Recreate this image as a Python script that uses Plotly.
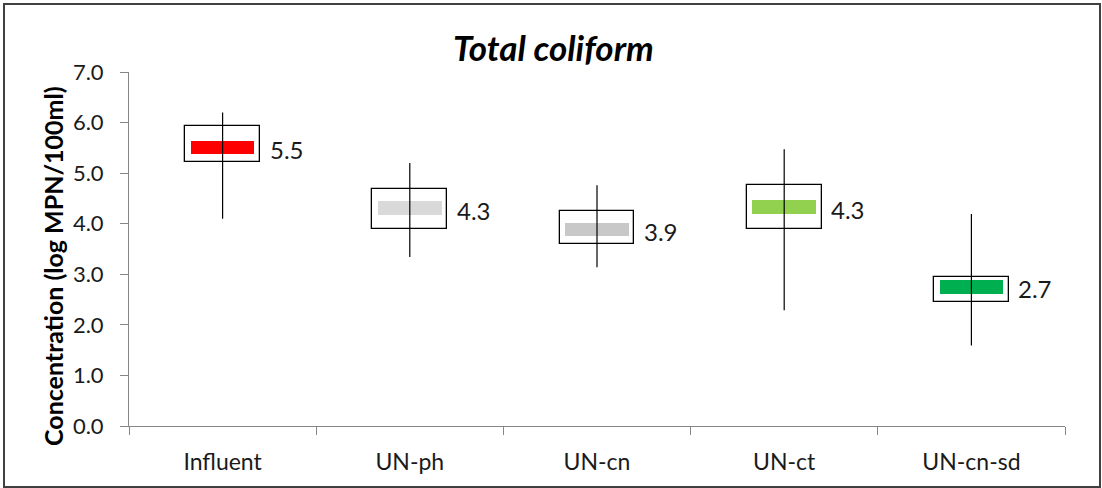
import plotly.graph_objects as go

categories = ["Influent", "UN-ph", "UN-cn", "UN-ct", "UN-cn-sd"]
mean_vals = [5.5, 4.3, 3.9, 4.3, 2.7]
mean_pos = [5.50, 4.31, 3.89, 4.33, 2.75]
box_low = [5.22, 3.89, 3.60, 3.89, 2.45]
box_high = [5.93, 4.68, 4.26, 4.76, 2.95]
whisk_low = [4.10, 3.34, 3.14, 2.29, 1.59]
whisk_high = [6.20, 5.20, 4.76, 5.47, 4.19]
colors = ["#ff0000", "#d9d9d9", "#c8c8c8", "#92d050", "#00b050"]

FONT = "Lato"
BAR_H = 0.26

fig = go.Figure()

# boxes (white with black outline)
fig.add_trace(go.Bar(
    x=categories,
    y=[h - l for h, l in zip(box_high, box_low)],
    base=box_low,
    width=0.4,
    marker=dict(color="white", line=dict(color="black", width=1.3)),
    hoverinfo="skip", showlegend=False,
))
# mean bars
fig.add_trace(go.Bar(
    x=categories,
    y=[BAR_H] * len(categories),
    base=[m - BAR_H / 2 for m in mean_pos],
    width=0.34,
    marker=dict(color=colors, line=dict(width=0)),
    hoverinfo="skip", showlegend=False,
))
# whiskers
wx, wy = [], []
for c, lo, hi in zip(categories, whisk_low, whisk_high):
    wx += [c, c, None]
    wy += [lo, hi, None]
fig.add_trace(go.Scatter(
    x=wx, y=wy, mode="lines",
    line=dict(color="black", width=1.2),
    hoverinfo="skip", showlegend=False,
))

annotations = []
for c, m, v in zip(categories, mean_pos, mean_vals):
    annotations.append(dict(
        x=c, y=m, xref="x", yref="y", text=f"{v:.1f}",
        showarrow=False, xanchor="left", yanchor="middle",
        xshift=45, yshift=-2,
        font=dict(family=FONT, size=24, color="#1a1a1a"),
    ))
# y-axis title
annotations.append(dict(
    x=(53 - 129) / 936, y=(426 - 266) / 354, xref="paper", yref="paper",
    text="<b>Concentration (log MPN/100ml)</b>", textangle=-90,
    showarrow=False, xanchor="center", yanchor="middle",
    font=dict(family=FONT, size=25, color="black"),
))
# title
annotations.append(dict(
    x=(553 - 129) / 936, y=(426 - 47) / 354, xref="paper", yref="paper",
    text="<b><i>Total coliform</i></b>",
    showarrow=False, xanchor="center", yanchor="middle",
    font=dict(family=FONT, size=35, color="black"),
))

fig.update_layout(
    width=1102, height=488,
    margin=dict(l=129, r=37, t=72, b=62),
    paper_bgcolor="white", plot_bgcolor="white",
    barmode="overlay",
    bargap=0,
    annotations=annotations,
    shapes=[dict(
        type="rect", xref="paper", yref="paper",
        x0=(4 - 129) / 936, x1=(1100 - 129) / 936,
        y0=(426 - 487) / 354, y1=(426 - 4) / 354,
        line=dict(color="#404040", width=2), fillcolor="rgba(0,0,0,0)",
        layer="above",
    )],
)
fig.update_xaxes(
    type="category", range=[-0.5, 4.5],
    tickson="boundaries", ticks="outside", ticklen=8,
    tickcolor="#868686", showline=True, linecolor="#868686", linewidth=1,
    showgrid=False, zeroline=False,
    tickfont=dict(family=FONT, size=23, color="#1a1a1a"),
    ticklabelstandoff=15,
)
fig.update_yaxes(
    range=[0, 7], tickvals=[0, 1, 2, 3, 4, 5, 6, 7],
    ticktext=[f"{v:.1f}" for v in range(8)],
    ticks="outside", ticklen=8, tickcolor="#868686",
    showline=True, linecolor="#868686", linewidth=1,
    showgrid=False, zeroline=False,
    tickfont=dict(family=FONT, size=22, color="#1a1a1a"),
    ticklabelstandoff=12,
)

fig.write_html("out.html", config={"displayModeBar": False},
               post_script="document.body.style.margin='0';")
